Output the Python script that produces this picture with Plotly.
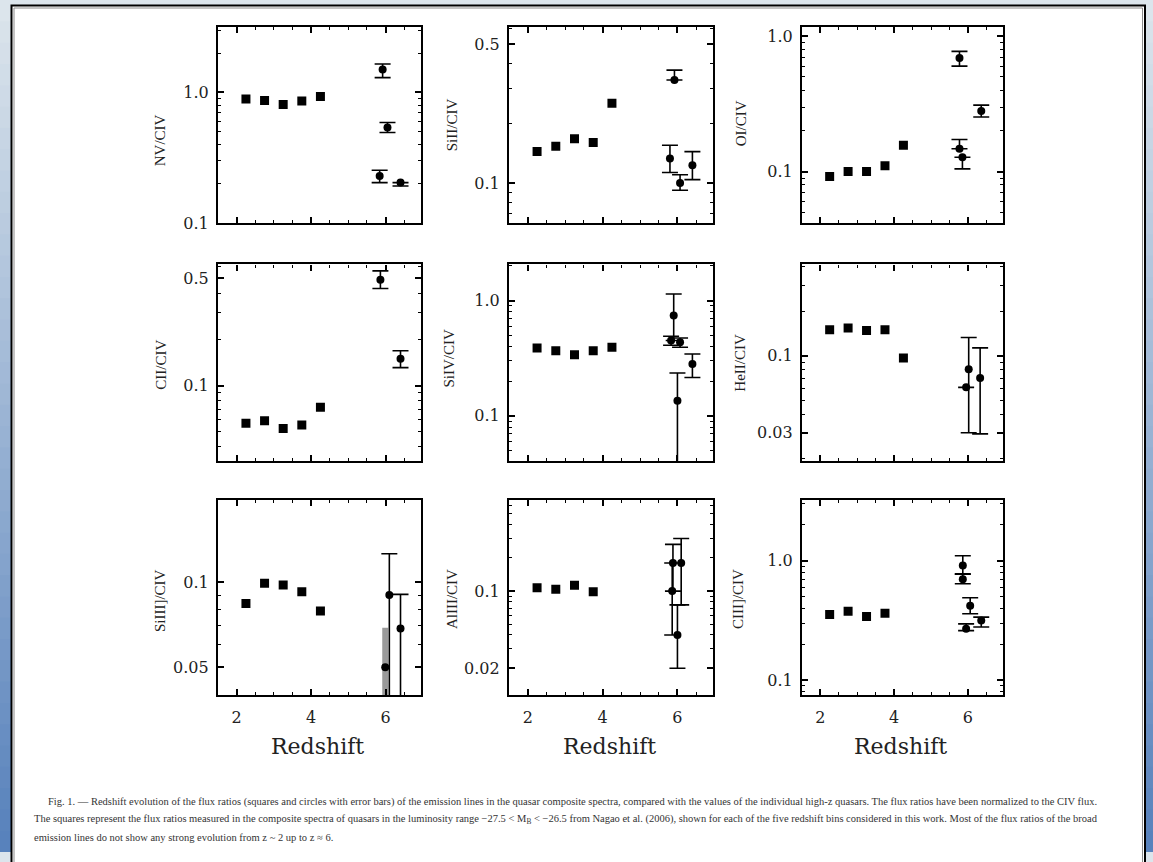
import plotly.graph_objects as go
import numpy as np

W, H = 1153, 862
K = 1.0135  # vertical calibration between target pixels and figure pixels

# ---------------- data ----------------
z_bins = [2.25, 2.75, 3.25, 3.75, 4.25]

labels = ["NV/CIV", "SiII/CIV", "OI/CIV",
          "CII/CIV", "SiIV/CIV", "HeII/CIV",
          "SiIII]/CIV", "AlIII/CIV", "CIII]/CIV"]

sq_nv = [0.89, 0.87, 0.81, 0.86, 0.93]
sq_si2 = [0.144, 0.153, 0.167, 0.160, 0.252]
sq_o1 = [0.0925, 0.1005, 0.1005, 0.111, 0.157]
sq_c2 = [0.0568, 0.059, 0.0526, 0.0553, 0.0722]
sq_si4 = [0.388, 0.367, 0.339, 0.367, 0.393]
sq_he2 = [0.15, 0.154, 0.148, 0.15, 0.0965]
sq_si3 = [0.084, 0.099, 0.0976, 0.0924, 0.079]
sq_al3 = [0.107, 0.104, 0.113, 0.0986]
sq_c3 = [0.355, 0.378, 0.341, 0.364]

hz_x = [
    [5.92, 6.05, 5.84, 6.40],
    [5.92, 5.80, 6.07, 6.40],
    [5.77, 6.36, 5.77, 5.85],
    [5.86, 6.40],
    [5.90, 5.83, 6.07, 6.00, 6.40],
    [6.02, 5.95, 6.33],
    [5.99, 6.10, 6.40],
    [5.88, 5.86, 6.00, 6.10],
    [5.86, 5.86, 6.06, 6.36, 5.95],
]
hz_y = [
    [1.5, 0.54, 0.23, 0.205],
    [0.33, 0.133, 0.10, 0.123],
    [0.69, 0.28, 0.148, 0.128],
    [0.49, 0.15],
    [0.74, 0.45, 0.434, 0.135, 0.281],
    [0.081, 0.061, 0.0705],
    [0.05, 0.09, 0.0685],
    [0.18, 0.10, 0.04, 0.18],
    [0.91, 0.70, 0.42, 0.316, 0.27],
]
hz_plus = [
    [0.15, 0.05, 0.025, 0.0],
    [0.04, 0.022, 0.01, 0.021],
    [0.08, 0.03, 0.025, 0.0],
    [0.07, 0.019],
    [0.40, 0.04, 0.04, 0.10, 0.063],
    [0.052, 0.0, 0.0425],
    [0.019, 0.036, 0.022],
    [0.085, 0.08, 0.035, 0.12],
    [0.19, 0.07, 0.07, 0.021, 0.026],
]
hz_minus = [
    [0.2, 0.045, 0.025, 0.012],
    [0.0, 0.02, 0.008, 0.019],
    [0.09, 0.027, 0.0, 0.023],
    [0.06, 0.019],
    [0.29, 0.04, 0.04, 0.12, 0.066],
    [0.051, 0.0, 0.041],
    [0.045, 0.085, 0.064],
    [0.08, 0.06, 0.02, 0.105],
    [0.135, 0.06, 0.06, 0.037, 0.01],
]

y_ranges = [[-1.0, 0.5], [-1.203, -0.215], [-1.38, 0.066],
            [-1.49, -0.21], [-1.39, 0.313], [-1.713, -0.381],
            [-1.40, -0.709], [-1.944, -0.173], [-1.125, 0.508]]
y_tickvals = [[0.1, 1.0], [0.1, 0.5], [0.1, 1.0],
              [0.1, 0.5], [0.1, 1.0], [0.03, 0.1],
              [0.05, 0.1], [0.02, 0.1], [0.1, 1.0]]
y_ticktext = [["0.1", "1.0"], ["0.1", "0.5"], ["0.1", "1.0"],
              ["0.1", "0.5"], ["0.1", "1.0"], ["0.03", "0.1"],
              ["0.05", "0.1"], ["0.02", "0.1"], ["0.1", "1.0"]]
x_tickvals = [2, 4, 6]
x_ticktext = ["2", "4", "6"]
x_title = "Redshift"

caption = [
    "Fig. 1. \u2014 Redshift evolution of the flux ratios (squares and circles with error bars) of the emission lines in the quasar composite spectra, compared with the values of the individual high-z quasars. The flux ratios have been normalized to the CIV flux.",
    "The squares represent the flux ratios measured in the composite spectra of quasars in the luminosity range \u221227.5 < M<sub>B</sub> < \u221226.5 from Nagao et al. (2006), shown for each of the five redshift bins considered in this work. Most of the flux ratios of the broad",
    "emission lines do not show any strong evolution from z ~ 2 up to z \u2248 6.",
]

sq_all = [sq_nv, sq_si2, sq_o1, sq_c2, sq_si4, sq_he2, sq_si3, sq_al3, sq_c3]

# ---------------- layout geometry (pixels) ----------------
col_x = [(218, 421), (509, 713), (802, 1003)]
row_y = [(27, 223), (264, 460), (499, 694)]
lab_pos = [(160, 140), (452, 125), (741, 123),
           (161, 364), (449, 358), (740, 362),
           (160, 600), (452, 598), (738, 598)]

def px(x):
    return x / W

def py(y):
    return 1 - (y * K) / H

fig = go.Figure()
ser = "Liberation Serif"
wide = "DejaVu Serif"

# background gradient bands
nb = 40
c0 = np.array([220, 229, 236])
c1 = np.array([88, 130, 188])
for i in range(nb):
    t = i / (nb - 1)
    c = (c0 * (1 - t) + c1 * t).astype(int)
    fig.add_shape(type="rect", xref="paper", yref="paper", layer="below",
                  x0=0, x1=1, y0=max(0, 1 - (i + 1) / nb - 0.002), y1=1 - i / nb,
                  line=dict(width=0), fillcolor=f"rgb({c[0]},{c[1]},{c[2]})")
# white frame
fig.add_shape(type="rect", xref="paper", yref="paper", layer="below",
              x0=px(11.5), x1=px(1145), y0=-0.02, y1=py(5.5),
              line=dict(color="black", width=2), fillcolor="white")
fig.add_shape(type="rect", xref="paper", yref="paper", layer="below",
              x0=px(14), x1=px(1142.5), y0=-0.02, y1=py(8),
              line=dict(color="#8a8a8a", width=1), fillcolor="white")

minor_vals = []
for d in [0.01, 0.1, 1.0]:
    for k in range(2, 10):
        minor_vals.append(round(k * d, 4))

for i in range(9):
    r, c = divmod(i, 3)
    sfx = "" if i == 0 else str(i + 1)
    xa, ya = "x" + sfx, "y" + sfx
    fig.add_trace(go.Scatter(x=z_bins[:len(sq_all[i])], y=sq_all[i], mode="markers",
                             marker=dict(symbol="square", size=9, color="black"),
                             xaxis=xa, yaxis=ya, showlegend=False))
    xs, ys, ep, em = hz_x[i], hz_y[i], hz_plus[i], hz_minus[i]
    if i == 6:
        fig.add_trace(go.Scatter(x=[xs[0]], y=[ys[0]], mode="markers",
                                 marker=dict(symbol="circle", size=8, color="black"),
                                 error_y=dict(type="data", array=[ep[0]], arrayminus=[em[0]],
                                              color="#9a9a9a", thickness=6, width=0),
                                 xaxis=xa, yaxis=ya, showlegend=False))
        xs, ys, ep, em = xs[1:], ys[1:], ep[1:], em[1:]
    fig.add_trace(go.Scatter(x=xs, y=ys, mode="markers",
                             marker=dict(symbol="circle", size=8, color="black"),
                             error_y=dict(type="data", array=ep, arrayminus=em,
                                          color="black", thickness=1.6, width=8),
                             xaxis=xa, yaxis=ya, showlegend=False))

    x0, x1 = col_x[c]
    y0, y1 = row_y[r]
    bottom = (r == 2)
    fig.layout["xaxis" + sfx] = dict(
        domain=[px(x0), px(x1)], anchor=ya, range=[1.5, 6.95],
        tickmode="array", tickvals=x_tickvals, ticktext=x_ticktext,
        showticklabels=bottom,
        ticks="inside", ticklen=6, tickwidth=1.5, tickcolor="black",
        minor=dict(tickmode="array", tickvals=[2.5, 3, 3.5, 4.5, 5, 5.5, 6.5],
                   ticks="inside", ticklen=3, tickcolor="black", tickwidth=1),
        showline=True, linecolor="black", linewidth=2.2, mirror="ticks",
        showgrid=False, zeroline=False, ticklabelstandoff=6,
        tickfont=dict(family=wide, size=16, color="#222"),
    )
    fig.layout["yaxis" + sfx] = dict(
        domain=[py(y1), py(y0)], anchor=xa, type="log", range=y_ranges[i],
        tickmode="array", tickvals=y_tickvals[i], ticktext=y_ticktext[i],
        ticks="inside", ticklen=6, tickwidth=1.5, tickcolor="black",
        minor=dict(tickmode="array", tickvals=minor_vals,
                   ticks="inside", ticklen=3, tickcolor="black", tickwidth=1),
        showline=True, linecolor="black", linewidth=2.2, mirror="ticks",
        showgrid=False, zeroline=False, ticklabelstandoff=4,
        tickfont=dict(family=wide, size=16, color="#222"),
    )
    lx, ly = lab_pos[i]
    fig.add_annotation(x=px(lx), y=py(ly), xref="paper", yref="paper",
                       xanchor="center", yanchor="middle",
                       text=labels[i], textangle=-90, showarrow=False,
                       font=dict(family=ser, size=15, color="#222"))
    if bottom:
        fig.add_annotation(x=px((x0 + x1) / 2 - 2), y=py(745), xref="paper", yref="paper",
                           xanchor="center", yanchor="middle",
                           text=x_title, showarrow=False,
                           font=dict(family=wide, size=22, color="#222"))

cap_y = [801, 818, 836]
cap_x = [46, 32, 32]
for k, line in enumerate(caption):
    fig.add_annotation(x=px(cap_x[k]), y=py(cap_y[k]), xref="paper", yref="paper",
                       xanchor="left", yanchor="middle", text=line, showarrow=False,
                       font=dict(family=ser, size=10.5, color="#333"))

fig.update_layout(width=W, height=H, margin=dict(l=0, r=0, t=0, b=0),
                  paper_bgcolor="#dce5ec", plot_bgcolor="white", showlegend=False)

fig.write_html("out.html")
